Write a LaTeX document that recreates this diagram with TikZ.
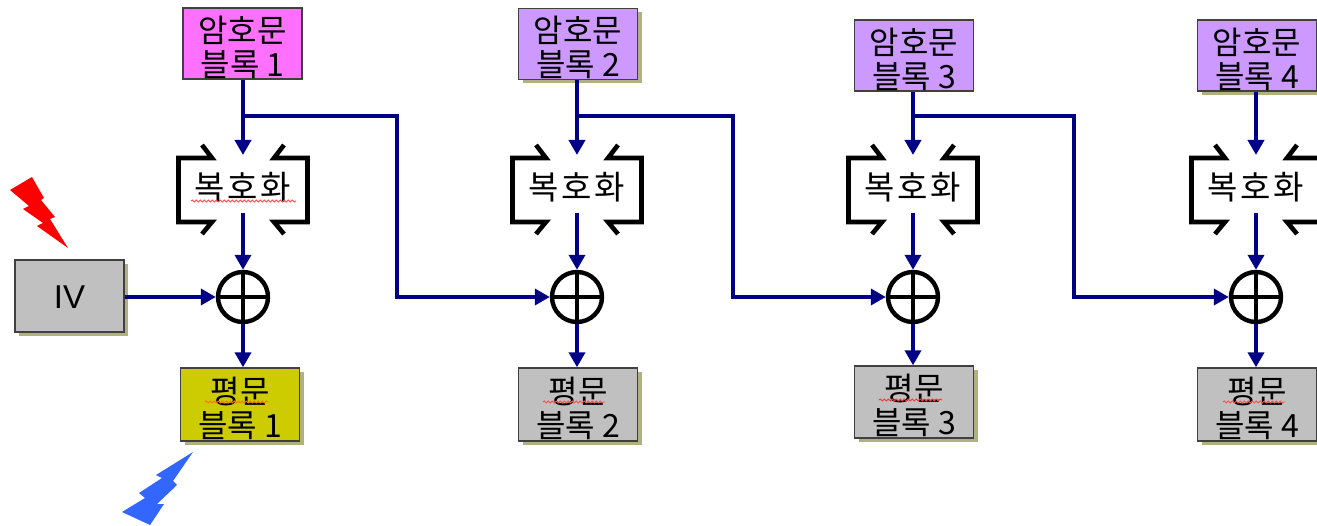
\documentclass[tikz,border=0pt]{standalone}
\usepackage{fontspec}
\setmainfont{Noto Sans CJK KR}
\newfontfamily\latinfont{Liberation Sans}
\usetikzlibrary{arrows.meta,shadows,decorations.pathmorphing}
\definecolor{flow}{HTML}{000086}
\definecolor{shade}{HTML}{B0B080}
\definecolor{pinkfill}{HTML}{FF70FF}
\definecolor{purplefill}{HTML}{CC99FF}
\definecolor{grayfill}{HTML}{C0C0C0}
\definecolor{yellowfill}{HTML}{CCCC00}
\tikzset{
  x=1pt,y=-1pt,
  block/.style={draw=black!75,line width=1.4pt,minimum width=119pt,minimum height=71pt,inner sep=0pt},
  blocktext/.style={label={[yshift=-3.5pt,inner sep=0pt,align=center,font=\fontsize{32}{34}\selectfont,text=black]center:#1}},
  ivblock/.style={block,minimum width=109pt,minimum height=72pt,font=\latinfont\fontsize{33}{33}\selectfont,text=black,execute at begin node={\rule{0pt}{26pt}}},
  shaded/.style={drop shadow={shadow xshift=4pt,shadow yshift=-4pt,fill=shade,opacity=1}},
  xorgate/.style={circle,draw=black,line width=4.4pt,minimum size=50pt,inner sep=0pt,fill=white},
  crossbar/.style={draw=black,line width=4.4pt},
  bracket/.style={draw=black,line width=4.6pt,line join=miter},
  dectext/.style={inner sep=0pt,font=\fontsize{33}{33}\selectfont\addfontfeatures{LetterSpace=8},text=black},
  flowline/.style={draw=flow,line width=4.8pt},
  flowarrow/.style={flowline,-{Triangle[length=15pt,width=16pt]}},
  squiggle/.style={decorate,decoration={snake,amplitude=1pt,segment length=4pt},line width=.9pt}
}
\newcommand{\decstage}[2]{%
  \node[dectext] (dec#1) at (#2,187) {복호화};
  \draw[bracket] (#2-41,145) -- (#2-31,158) -- (#2-64.5,158) -- (#2-64.5,222) -- (#2-31,222) -- (#2-41,234);
  \draw[bracket] (#2+41,145) -- (#2+31,158) -- (#2+64.5,158) -- (#2+64.5,222) -- (#2+31,222) -- (#2+41,234);
  \coordinate (in#1) at (#2,155);
  \coordinate (out#1) at (#2,213);
  \coordinate (j#1) at (#2,116);
  \node[xorgate] (xor#1) at (#2,297) {};
  \draw[crossbar] (xor#1.north) -- (xor#1.south);
  \draw[crossbar] (xor#1.west) -- (xor#1.east);
}
\begin{document}
\begin{tikzpicture}
\clip (0,0) rectangle (1317,526);
\path[fill=white] (0,0) rectangle (1317,526);
% ciphertext blocks
\node[block,fill=pinkfill,blocktext={암호문\\블록 1}] (c1) at (242.5,43.5) {};
\node[block,shaded,fill=purplefill,blocktext={암호문\\블록 2}] (c2) at (578,44) {};
\node[block,fill=purplefill,blocktext={암호문\\블록 3}] (c3) at (914,55.5) {};
\node[block,shaded,fill=purplefill,blocktext={암호문\\블록 4}] (c4) at (1257,55.5) {};
% decrypt stages
\decstage{1}{243}
\decstage{2}{577}
\decstage{3}{913}
\decstage{4}{1256}
% plaintext blocks
\node[block,shaded,fill=yellowfill,minimum height=73pt,blocktext={평문\\블록 1}] (p1) at (240,404.5) {};
\node[block,shaded,fill=grayfill,minimum height=73pt,blocktext={평문\\블록 2}] (p2) at (578,404.5) {};
\node[block,shaded,fill=grayfill,minimum height=72pt,blocktext={평문\\블록 3}] (p3) at (914,402) {};
\node[block,shaded,fill=grayfill,minimum height=73pt,blocktext={평문\\블록 4}] (p4) at (1257,404.5) {};
% IV
\node[ivblock,shaded,fill=grayfill] (iv) at (69.5,296) {IV};
% spelling squiggles
\draw[squiggle,draw=red!70] (191,201) -- (296,201);
\draw[squiggle,draw=orange!90!red] (205,402) -- (268,402);
\draw[squiggle,draw=red!70] (543,402) -- (605,402);
\draw[squiggle,draw=red!80] (879,400) -- (942,400);
\draw[squiggle,draw=red!70] (1223,402) -- (1285,402);
% vertical flows
\foreach \n in {1,2,3,4}{
  \draw[flowarrow] (in\n |- c\n.south) -- (in\n);
  \draw[flowarrow] (out\n) -- (xor\n.north);
  \draw[flowarrow] (xor\n.south) -- (xor\n |- p\n.north);
}
% chaining
\draw[flowarrow] (xor1.west -| iv.east) -- (xor1.west);
\coordinate (b1) at (397,116);
\coordinate (b2) at (733,116);
\coordinate (b3) at (1074,116);
\draw[flowarrow,line join=miter] (j1) -- (b1) |- (xor2.west);
\draw[flowarrow,line join=miter] (j2) -- (b2) |- (xor3.west);
\draw[flowarrow,line join=miter] (j3) -- (b3) |- (xor4.west);
% lightning bolts
\fill[red] (10,190) -- (32,177) -- (44,198) -- (41,200) -- (55,217) -- (50,219) -- (68,248) -- (37,226) -- (43,223) -- (23,209) -- (29,206) -- cycle;
\fill[fill={rgb,255:red,51;green,102;blue,255}] (193,452) -- (173,481) -- (177,485) -- (157,504) -- (164,504) -- (150,525) -- (122,512) -- (145,498) -- (139,493) -- (162,478) -- (156,475) -- cycle;
\end{tikzpicture}
\end{document}
